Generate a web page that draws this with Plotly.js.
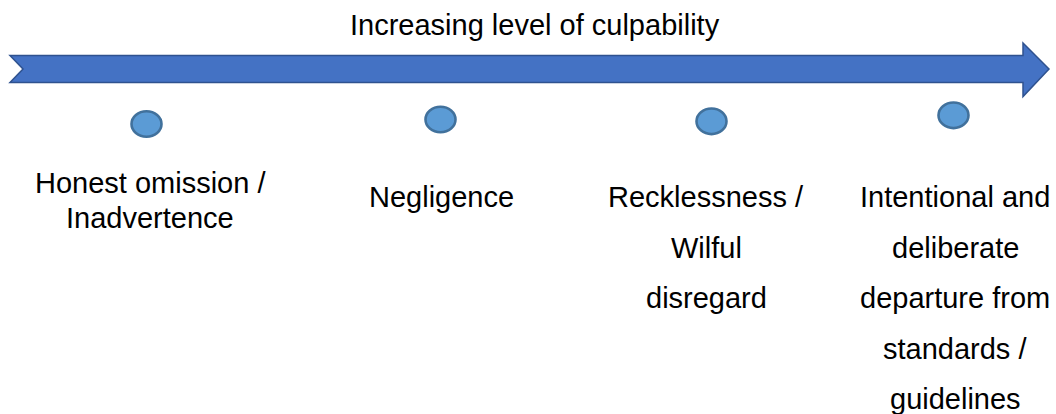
<!DOCTYPE html>
<html>
<head>
<meta charset="utf-8">
<script src="https://cdn.plot.ly/plotly-3.0.1.min.js"></script>
<style>html,body{margin:0;padding:0;background:#fff;}#chart{width:1056px;height:414px;}</style>
</head>
<body>
<div id="chart"></div>
<script>
// ---- data ----
const chartTitle = "Increasing level of culpability";
const levels = ["Honest omission / Inadvertence", "Negligence", "Recklessness / Wilful disregard", "Intentional and deliberate departure from standards / guidelines"];
const levelLines = [
  ["Honest omission /", "Inadvertence"],
  ["Negligence"],
  ["Recklessness /", "Wilful", "disregard"],
  ["Intentional and", "deliberate", "departure from", "standards /", "guidelines"]
];

// ---- layout (pixel space) ----
const W = 1056, H = 414;
const dotX = [146.5, 440.5, 711.5, 953.5];
const dotY = [124, 119.5, 121.3, 115.3];
const dotRx = 15, dotRy = 12.8;
const labelX = [150, 441, 706, 955];
const labelFirstCenter = [183, 197, 197, 197];
const labelGap = [35, 0, 50.5, 50.5];
const FONT = "Liberation Sans, Arial, sans-serif";
const FS = 29;

const shapes = [];
// arrow
shapes.push({
  type: "path", xref: "x", yref: "y",
  path: "M10,55.5 L1023,55.5 L1023,43 L1049,69 L1023,96.5 L1023,82.5 L10,82.5 L23,69 Z",
  fillcolor: "#4472C4", line: {color: "#2F528F", width: 1.5}, layer: "above"
});
// dots
levels.forEach((lv, i) => {
  shapes.push({
    type: "circle", xref: "x", yref: "y",
    x0: dotX[i] - dotRx, x1: dotX[i] + dotRx,
    y0: dotY[i] - dotRy, y1: dotY[i] + dotRy,
    fillcolor: "#5B9BD5", line: {color: "#41719C", width: 2.6}, layer: "above"
  });
});

const annotations = [];
annotations.push({
  text: chartTitle, x: 535, y: 25, xref: "x", yref: "y",
  xanchor: "center", yanchor: "middle", showarrow: false,
  font: {family: FONT, size: FS, color: "#000"}
});
levelLines.forEach((lines, i) => {
  lines.forEach((t, j) => {
    annotations.push({
      text: t, x: labelX[i], y: labelFirstCenter[i] + j * labelGap[i],
      xref: "x", yref: "y", xanchor: "center", yanchor: "middle",
      showarrow: false, font: {family: FONT, size: FS, color: "#000"}
    });
  });
});

const traces = [{
  type: "scatter", mode: "markers", x: dotX, y: dotY, text: levels,
  hoverinfo: "text", marker: {size: 28, opacity: 0}, showlegend: false
}];

const layout = {
  width: W, height: H,
  margin: {l: 0, r: 0, t: 0, b: 0},
  paper_bgcolor: "#fff", plot_bgcolor: "#fff",
  xaxis: {range: [0, W], visible: false, fixedrange: true},
  yaxis: {range: [H, 0], visible: false, fixedrange: true},
  shapes: shapes, annotations: annotations, showlegend: false
};
Plotly.newPlot("chart", traces, layout, {displayModeBar: false, staticPlot: true});
</script>
</body>
</html>
